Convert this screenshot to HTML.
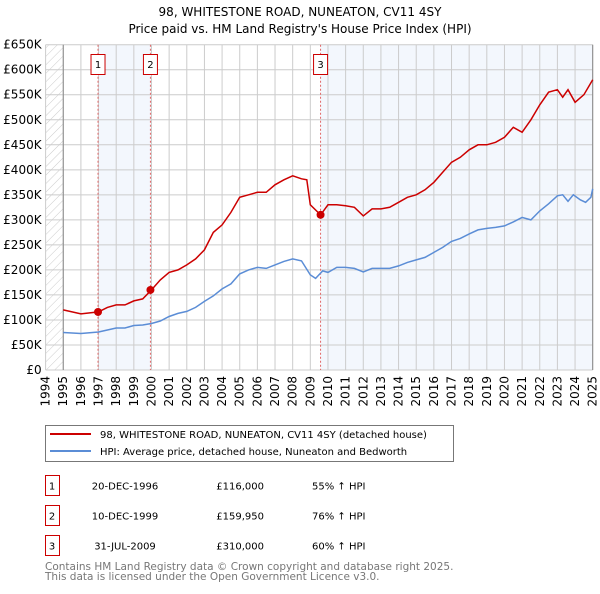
<!DOCTYPE html>
<html><head><meta charset="utf-8"><style>
body{margin:0;background:#fff;font-family:"DejaVu Sans","Liberation Sans",sans-serif;}
svg text{font-family:"DejaVu Sans","Liberation Sans",sans-serif;}
</style></head><body>
<svg id="chart" width="600" height="590" viewBox="0 0 600 590" xmlns="http://www.w3.org/2000/svg">
<defs><pattern id="hatch" width="6" height="6" patternUnits="userSpaceOnUse" patternTransform="rotate(45)"><line x1="0" y1="0" x2="0" y2="6" stroke="#ccc" stroke-width="1"/></pattern></defs>
<text x="300" y="16" text-anchor="middle" font-size="12" fill="#000">98, WHITESTONE ROAD, NUNEATON, CV11 4SY</text>
<text x="300" y="33" text-anchor="middle" font-size="12" fill="#000">Price paid vs. HM Land Registry's House Price Index (HPI)</text>
<g id="plot"></g>
<g>
<rect x="45.5" y="425.5" width="408" height="36" fill="#fff" stroke="#777"/>
<line x1="50" y1="434" x2="91" y2="434" stroke="#cc0000" stroke-width="2"/>
<text x="100" y="438" font-size="10">98, WHITESTONE ROAD, NUNEATON, CV11 4SY (detached house)</text>
<line x1="50" y1="451" x2="91" y2="451" stroke="#5b8dd6" stroke-width="2"/>
<text x="100" y="455" font-size="10">HPI: Average price, detached house, Nuneaton and Bedworth</text>
</g>
<g id="table" font-size="10"></g>
<text x="45" y="570" font-size="10.5" fill="#777">Contains HM Land Registry data © Crown copyright and database right 2025.</text>
<text x="45" y="580" font-size="10.5" fill="#777">This data is licensed under the Open Government Licence v3.0.</text>
</svg>
<script>
const hpiYears=[1995,1996,1997,1997.5,1998,1998.5,1999,1999.5,2000,2000.5,2001,2001.5,2002,2002.5,2003,2003.5,2004,2004.5,2005,2005.5,2006,2006.5,2007,2007.5,2008,2008.5,2009,2009.3,2009.7,2010,2010.5,2011,2011.5,2012,2012.5,2013,2013.5,2014,2014.5,2015,2015.5,2016,2016.5,2017,2017.5,2018,2018.5,2019,2019.5,2020,2020.5,2021,2021.5,2022,2022.5,2023,2023.3,2023.6,2023.9,2024.3,2024.6,2024.9,2025];
const hpiValues=[75,73,76,80,84,84,89,90,93,98,107,113,117,125,137,148,162,172,192,200,205,203,210,217,222,218,190,183,198,195,205,205,203,196,203,203,203,208,215,220,225,235,245,257,263,272,280,283,285,288,296,305,300,318,332,348,350,337,350,340,335,345,362];
const priceYears=[1995,1996,1997,1997.5,1998,1998.5,1999,1999.5,2000,2000.5,2001,2001.5,2002,2002.5,2003,2003.5,2004,2004.5,2005,2005.5,2006,2006.5,2007,2007.5,2008,2008.5,2008.8,2009,2009.58,2010,2010.5,2011,2011.5,2012,2012.5,2013,2013.5,2014,2014.5,2015,2015.5,2016,2016.5,2017,2017.5,2018,2018.5,2019,2019.5,2020,2020.5,2021,2021.5,2022,2022.5,2023,2023.3,2023.6,2024,2024.5,2025];
const priceValues=[120,112,116,125,130,130,138,142,160,180,195,200,210,222,240,275,290,315,345,350,355,355,370,380,388,382,380,330,310,330,330,328,325,308,322,322,325,335,345,350,360,375,395,415,425,440,450,450,455,465,485,475,500,530,555,560,545,560,535,550,580];
const saleLabels=["1","2","3"];
const saleDates=[1996.97,1999.94,2009.58];
const saleDateText=["20-DEC-1996","10-DEC-1999","31-JUL-2009"];
const salePrices=[116,159.95,310];
const salePriceText=["£116,000","£159,950","£310,000"];
const saleHpiText=["55% ↑ HPI","76% ↑ HPI","60% ↑ HPI"];
const yTicks=[0,50,100,150,200,250,300,350,400,450,500,550,600,650];
const yTickLabels=["£0","£50K","£100K","£150K","£200K","£250K","£300K","£350K","£400K","£450K","£500K","£550K","£600K","£650K"];
const xTicks=[1994,1995,1996,1997,1998,1999,2000,2001,2002,2003,2004,2005,2006,2007,2008,2009,2010,2011,2012,2013,2014,2015,2016,2017,2018,2019,2020,2021,2022,2023,2024,2025];

const NS="http://www.w3.org/2000/svg";
const X0=45.6,X1=592.7,Y0=370,Y1=44.7;
const xs=y=>X0+(y-1994)/(2025-1994)*(X1-X0);
const ys=v=>Y0-v/650*(Y0-Y1);
const plot=document.getElementById('plot');
function mk(tag,attrs,parent){const e=document.createElementNS(NS,tag);for(const k in attrs)e.setAttribute(k,attrs[k]);(parent||plot).appendChild(e);return e;}
let e;
e=mk('rect',{x:X0,y:Y1,width:X1-X0,height:Y0-Y1,fill:'#fff'});


e=mk('rect',{x:X0,y:Y1,width:xs(1995)-X0,height:Y0-Y1,fill:'url(#hatch)'});


e=mk('rect',{x:xs(saleDates[0]),y:Y1,width:xs(saleDates[1])-xs(saleDates[0]),height:Y0-Y1,fill:'#eef3fc',opacity:0.7});


e=mk('rect',{x:xs(saleDates[2]),y:Y1,width:X1-xs(saleDates[2]),height:Y0-Y1,fill:'#eef3fc',opacity:0.7});


yTicks.forEach((t,i)=>{
 e=mk('line',{x1:X0,x2:X1,y1:ys(t),y2:ys(t),stroke:'#ccc','stroke-width':1});
 
 
 e=mk('text',{x:X0-4,y:ys(t)+4,'text-anchor':'end','font-size':12,fill:'#000'});
 e.textContent=yTickLabels[i];
 
 
});
xTicks.forEach(t=>{
 e=mk('line',{x1:xs(t),x2:xs(t),y1:Y1,y2:Y0,stroke:'#ccc','stroke-width':1});
 
 
 e=mk('text',{x:0,y:0,'text-anchor':'end','font-size':12,fill:'#000',transform:`translate(${xs(t)+4},${Y0+6}) rotate(-90)`});
 e.textContent=String(t);
 
 
});
e=mk('line',{x1:xs(1995),x2:xs(1995),y1:Y1,y2:Y0,stroke:'#888','stroke-width':1});


e=mk('line',{x1:X1,x2:X1,y1:Y1,y2:Y0,stroke:'#888','stroke-width':1});


saleDates.forEach((d,i)=>{
 e=mk('line',{x1:xs(d),x2:xs(d),y1:Y1,y2:Y0,stroke:'#e06666','stroke-width':1,'stroke-dasharray':'2,2'});
 
 
});
const path=(xa,va)=>xa.map((x,i)=>(i?'L':'M')+xs(x).toFixed(1)+','+ys(va[i]).toFixed(1)).join('');
e=mk('path',{d:path(hpiYears,hpiValues),fill:'none',stroke:'#5b8dd6','stroke-width':1.5});


e=mk('path',{d:path(priceYears,priceValues),fill:'none',stroke:'#cc0000','stroke-width':1.5});


saleDates.forEach((d,i)=>{
 e=mk('circle',{cx:xs(d),cy:ys(salePrices[i]),r:4,fill:'#cc0000'});
 
 
 e=mk('rect',{x:xs(d)-7,y:54.5,width:14,height:20,fill:'#fff',stroke:'#cc0000'});
 
 
 e=mk('text',{x:xs(d),y:68,'text-anchor':'middle','font-size':10});
 e.textContent=saleLabels[i];
 
 
});
const tbl=document.getElementById('table');
saleLabels.forEach((l,i)=>{
 const y=475.5+i*30;
 e=mk('rect',{x:45.5,y:y,width:14,height:20,fill:'#fff',stroke:'#cc0000'},tbl);
 
 
 const cells=[[52,l,'middle'],[125,saleDateText[i],'middle'],[264,salePriceText[i],'end'],[312,saleHpiText[i],'start']];
 cells.forEach(c=>{
  e=mk('text',{x:c[0],y:y+14,'text-anchor':c[2],'font-size':10},tbl);
  e.textContent=c[1];
  
  
 });
});
</script>
</body></html>
